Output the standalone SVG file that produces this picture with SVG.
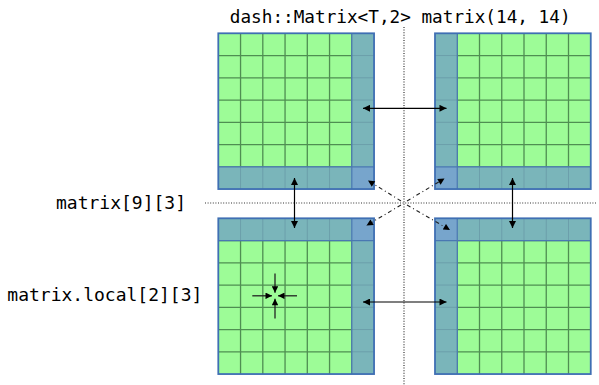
<svg xmlns="http://www.w3.org/2000/svg" xmlns:xlink="http://www.w3.org/1999/xlink" width="599" height="385" viewBox="0 0 599 385">
  <style>
    .label { font-family: "DejaVu Sans Mono", "Liberation Mono", monospace; font-size: 18px; fill: #000; }
    .title { font-size: 17.7px; }
    .cell { fill: #9dfc97; }
    .grid { fill: none; stroke: #4f8e52; stroke-width: 1.3; }
    .halo { fill: #7ab5ba; }
    .halo-grid { fill: none; stroke: #6c9fab; stroke-width: 1; }
    .corner { fill: #77a5cc; }
    .seam { fill: none; stroke: #4a78b2; stroke-width: 1.2; }
    .frame { fill: none; stroke: #3f6fb3; stroke-width: 1.8; }
    .guide { fill: none; stroke: #333; stroke-width: 1.2; stroke-dasharray: 1 1.6; }
    .link { fill: none; stroke: #000; stroke-width: 1.2; }
    .diag { fill: none; stroke: #222; stroke-width: 1.1; stroke-dasharray: 4 3 1 3; }
    .probe { fill: none; stroke: #222; stroke-width: 1.3; }
  </style>
  <defs>
    <marker id="head" viewBox="0 0 10 10" refX="10" refY="5" markerUnits="userSpaceOnUse" markerWidth="9" markerHeight="7" orient="auto-start-reverse">
      <path d="M0,0 L10,5 L0,10 z" fill="#000"/>
    </marker>
    <marker id="headSmall" viewBox="0 0 10 10" refX="10" refY="5" markerUnits="userSpaceOnUse" markerWidth="7.5" markerHeight="6.5" orient="auto-start-reverse">
      <path d="M0,0 L10,5 L0,10 z" fill="#000"/>
    </marker>
    <!-- 7x7 block: green cells and their inner grid -->
    <g id="tile">
      <rect class="cell" x="0" y="0" width="155.75" height="155.75"/>
      <path class="grid" d="M22.25 0V155.75M44.5 0V155.75M66.75 0V155.75M89 0V155.75M111.25 0V155.75M133.5 0V155.75M0 22.25H155.75M0 44.5H155.75M0 66.75H155.75M0 89H155.75M0 111.25H155.75M0 133.5H155.75"/>
    </g>
  </defs>

  <!-- reference lines through the middle -->
  <g id="guides">
    <path class="guide" d="M404 27V385"/>
    <path class="guide" d="M205 203H597"/>
  </g>

  <!-- upper left unit: halo on the right column and bottom row -->
  <g id="block-tl" transform="translate(218.3,33.3)">
    <use xlink:href="#tile"/>
    <rect class="halo" x="133.5" y="0" width="22.25" height="155.75"/>
    <rect class="halo" x="0" y="133.5" width="155.75" height="22.25"/>
    <path class="halo-grid" d="M133.5 22.25H155.75M133.5 44.5H155.75M133.5 66.75H155.75M133.5 89H155.75M133.5 111.25H155.75M22.25 133.5V155.75M44.5 133.5V155.75M66.75 133.5V155.75M89 133.5V155.75M111.25 133.5V155.75"/>
    <rect class="corner" x="133.5" y="133.5" width="22.25" height="22.25"/>
    <path class="seam" d="M133.5 0V155.75M0 133.5H155.75"/>
    <rect class="frame" x="0" y="0" width="155.75" height="155.75"/>
  </g>

  <!-- upper right unit: halo on the left column and bottom row -->
  <g id="block-tr" transform="translate(435,33.3)">
    <use xlink:href="#tile"/>
    <rect class="halo" x="0" y="0" width="22.25" height="155.75"/>
    <rect class="halo" x="0" y="133.5" width="155.75" height="22.25"/>
    <path class="halo-grid" d="M0 22.25H22.25M0 44.5H22.25M0 66.75H22.25M0 89H22.25M0 111.25H22.25M44.5 133.5V155.75M66.75 133.5V155.75M89 133.5V155.75M111.25 133.5V155.75M133.5 133.5V155.75"/>
    <rect class="corner" x="0" y="133.5" width="22.25" height="22.25"/>
    <path class="seam" d="M22.25 0V155.75M0 133.5H155.75"/>
    <rect class="frame" x="0" y="0" width="155.75" height="155.75"/>
  </g>

  <!-- lower left unit: halo on the right column and top row -->
  <g id="block-bl" transform="translate(218.3,218.3)">
    <use xlink:href="#tile"/>
    <rect class="halo" x="133.5" y="0" width="22.25" height="155.75"/>
    <rect class="halo" x="0" y="0" width="155.75" height="22.25"/>
    <path class="halo-grid" d="M133.5 44.5H155.75M133.5 66.75H155.75M133.5 89H155.75M133.5 111.25H155.75M133.5 133.5H155.75M22.25 0V22.25M44.5 0V22.25M66.75 0V22.25M89 0V22.25M111.25 0V22.25"/>
    <rect class="corner" x="133.5" y="0" width="22.25" height="22.25"/>
    <path class="seam" d="M133.5 0V155.75M0 22.25H155.75"/>
    <rect class="frame" x="0" y="0" width="155.75" height="155.75"/>
  </g>

  <!-- lower right unit: halo on the left column and top row -->
  <g id="block-br" transform="translate(435,218.3)">
    <use xlink:href="#tile"/>
    <rect class="halo" x="0" y="0" width="22.25" height="155.75"/>
    <rect class="halo" x="0" y="0" width="155.75" height="22.25"/>
    <path class="halo-grid" d="M0 44.5H22.25M0 66.75H22.25M0 89H22.25M0 111.25H22.25M0 133.5H22.25M44.5 0V22.25M66.75 0V22.25M89 0V22.25M111.25 0V22.25M133.5 0V22.25"/>
    <rect class="corner" x="0" y="0" width="22.25" height="22.25"/>
    <path class="seam" d="M22.25 0V155.75M0 22.25H155.75"/>
    <rect class="frame" x="0" y="0" width="155.75" height="155.75"/>
  </g>

  <!-- halo exchange arrows -->
  <g id="connectors">
    <line class="link" x1="363" y1="108.3" x2="446.5" y2="108.3" marker-start="url(#head)" marker-end="url(#head)"/>
    <line class="link" x1="363" y1="302" x2="446.5" y2="302" marker-start="url(#head)" marker-end="url(#head)"/>
    <line class="link" x1="294.5" y1="178" x2="294.5" y2="228" marker-start="url(#head)" marker-end="url(#head)"/>
    <line class="link" x1="512.5" y1="178" x2="512.5" y2="228" marker-start="url(#head)" marker-end="url(#head)"/>
    <line class="diag" x1="401" y1="201" x2="368" y2="180.5" marker-end="url(#headSmall)"/>
    <line class="diag" x1="407" y1="201" x2="444.5" y2="178.5" marker-end="url(#headSmall)"/>
    <line class="diag" x1="401" y1="205" x2="366.5" y2="225.5" marker-end="url(#headSmall)"/>
    <line class="diag" x1="407" y1="205" x2="450" y2="230" marker-end="url(#headSmall)"/>
    <!-- local element probe -->
    <line class="probe" x1="252.3" y1="295.8" x2="272" y2="295.8" marker-end="url(#headSmall)"/>
    <line class="probe" x1="297" y1="295.8" x2="278" y2="295.8" marker-end="url(#headSmall)"/>
    <line class="probe" x1="275" y1="273.5" x2="275" y2="292.8" marker-end="url(#headSmall)"/>
    <line class="probe" x1="275" y1="318.5" x2="275" y2="298.8" marker-end="url(#headSmall)"/>
  </g>

  <g id="labels">
    <text class="label title" x="229.8" y="22.5">dash::Matrix&lt;T,2&gt; matrix(14, 14)</text>
    <text class="label" x="56" y="209.3">matrix[9][3]</text>
    <text class="label" x="7.3" y="300.7">matrix.local[2][3]</text>
  </g>
</svg>
